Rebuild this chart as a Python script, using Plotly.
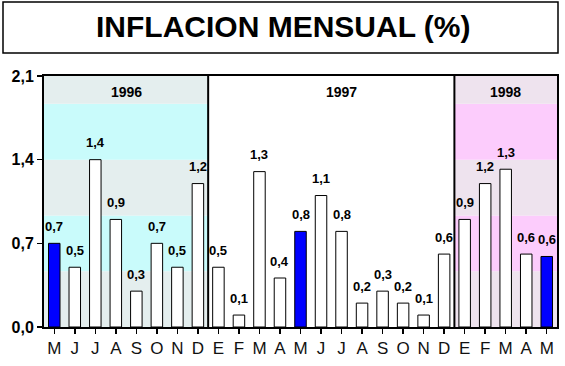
import plotly.graph_objects as go

# ---- data ----
months = ["M", "J", "J", "A", "S", "O", "N", "D",
          "E", "F", "M", "A", "M", "J", "J", "A", "S", "O", "N", "D",
          "E", "F", "M", "A", "M"]
inflation = [0.70, 0.50, 1.40, 0.90, 0.30, 0.70, 0.50, 1.20,
             0.50, 0.10, 1.30, 0.41, 0.80, 1.10, 0.80, 0.20, 0.30, 0.20, 0.10, 0.61,
             0.90, 1.20, 1.32, 0.61, 0.59]
highlight_idx = [0, 12, 24]          # May of each year
years = ["1996", "1997", "1998"]
year_first = [0, 8, 20]
year_last = [7, 19, 24]
year_label_pos = [3.5, 14.0, 22.0]
y_ticks = [0.0, 0.7, 1.4, 2.1]

x = list(range(len(months)))
colors = ["#0000ff" if i in highlight_idx else "#ffffff" for i in x]
labels = [f"{v:.1f}".replace(".", ",") for v in inflation]

fig = go.Figure()
fig.add_trace(go.Bar(
    x=x, y=inflation, width=0.56,
    marker=dict(color=colors, line=dict(color="black", width=1)),
    hoverinfo="skip", showlegend=False,
))

shapes = []
# shaded year backgrounds (1996 cyan, 1998 pink)
band_edges = [0.0, 0.467, 0.933, 1.4, 1.867, 2.1]
for yi, (strong, light) in {0: ("#c9fbfb", "#e4eeee"), 2: ("#fcccfc", "#eee3ee")}.items():
    for k in range(len(band_edges) - 1):
        shapes.append(dict(type="rect", xref="x", yref="y",
                           x0=year_first[yi] - 0.5, x1=year_last[yi] + 0.5,
                           y0=band_edges[k], y1=band_edges[k + 1],
                           fillcolor=(strong if k % 2 == 1 else light),
                           line=dict(width=0), layer="below"))
# year separators
for yi in range(1, len(years)):
    shapes.append(dict(type="line", xref="x", yref="y",
                       x0=year_first[yi] - 0.5, x1=year_first[yi] - 0.5,
                       y0=0, y1=2.1, line=dict(color="black", width=2)))
# title box
shapes.append(dict(type="rect", xref="paper", yref="paper",
                   x0=(3 - 44) / 513, x1=(558 - 44) / 513,
                   y0=(327 - 53) / 251, y1=(327 - 2) / 251,
                   line=dict(color="black", width=1.5), fillcolor="white"))

annotations = []
for i, (v, t) in enumerate(zip(inflation, labels)):
    annotations.append(dict(x=i, y=v, text=t, showarrow=False, xref="x", yref="y",
                            yanchor="middle", yshift=17,
                            font=dict(family="Arial, Liberation Sans", size=13, color="black", weight="bold")))
for yl, xp in zip(years, year_label_pos):
    annotations.append(dict(x=xp, y=2.1, text=yl, showarrow=False, xref="x", yref="y",
                            yanchor="middle", yshift=-16,
                            font=dict(family="Arial, Liberation Sans", size=14, color="black", weight="bold")))
annotations.append(dict(x=(283 - 44) / 513, y=(327 - 27) / 251, xref="paper", yref="paper",
                        text="<b>INFLACION MENSUAL (%)</b>", showarrow=False,
                        xanchor="center", yanchor="middle",
                        font=dict(family="Arial, Liberation Sans", size=30, color="black")))

fig.update_layout(
    width=565, height=366,
    margin=dict(l=44, r=8, t=76, b=39, autoexpand=False),
    paper_bgcolor="white", plot_bgcolor="white",
    separators=",.",
    shapes=shapes, annotations=annotations,
    xaxis=dict(range=[-0.5, len(months) - 0.5], tickvals=x, ticktext=months, automargin=False,
               ticks="outside", tickson="boundaries", ticklen=5, tickcolor="black", tickwidth=1.5,
               showline=True, linecolor="black", linewidth=2, mirror=True,
               showgrid=False, zeroline=False,
               tickfont=dict(family="Arial, Liberation Sans", size=17, color="#111111")),
    yaxis=dict(range=[0, 2.1], tickvals=y_ticks, tickformat=".1f", automargin=False,
               ticks="outside", ticklen=5, tickcolor="black", tickwidth=1.5,
               showline=True, linecolor="black", linewidth=2, mirror=True,
               showgrid=False, zeroline=False,
               tickfont=dict(family="Arial, Liberation Sans", size=16, color="black", weight="bold")),
)

fig.write_html("out.html",
               config={"displayModeBar": False, "staticPlot": True},
               post_script="document.body.style.margin='0';document.body.style.padding='0';")
